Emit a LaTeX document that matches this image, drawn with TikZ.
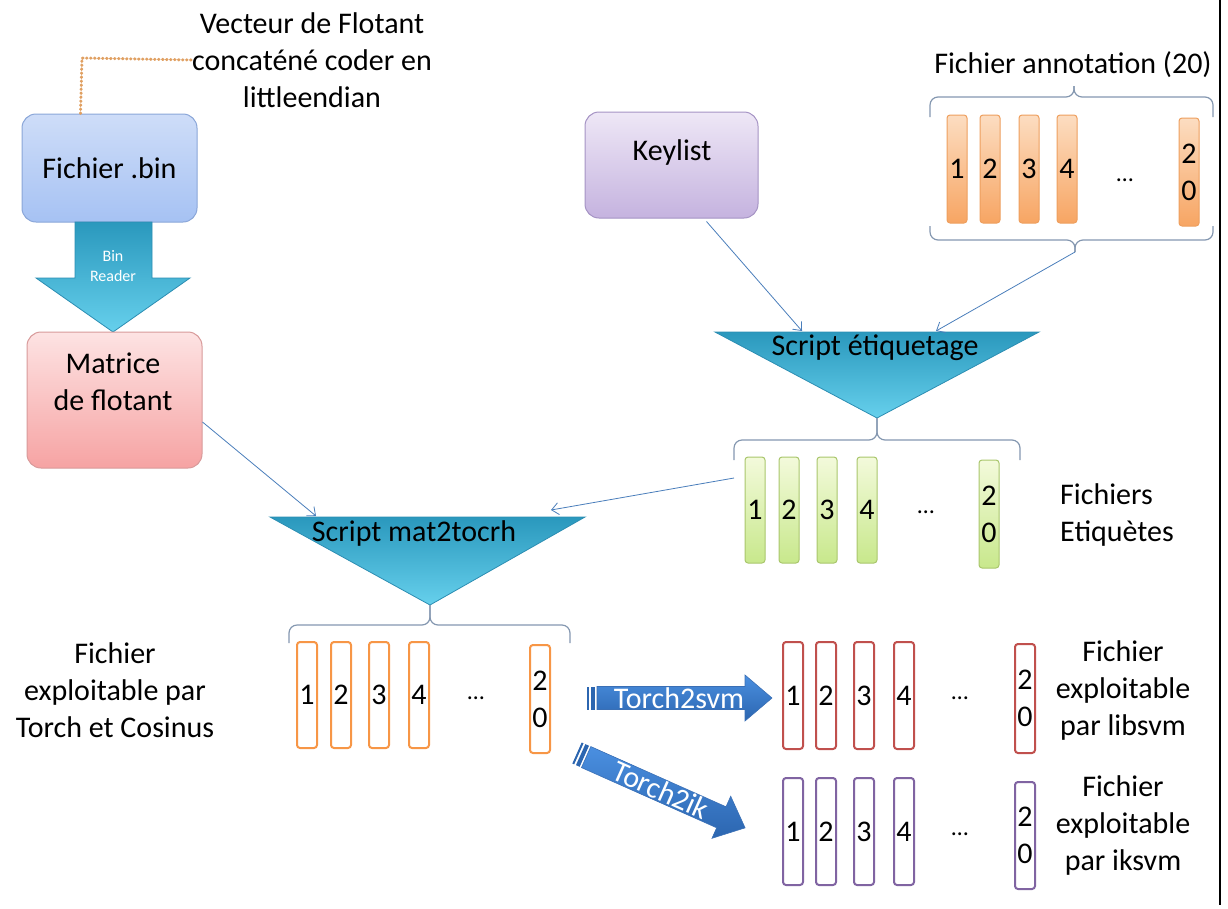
\documentclass[tikz,border=0pt]{standalone}
\usepackage{fontspec}
\setmainfont{Carlito}
\usetikzlibrary{arrows.meta}

% colours of the slide
\definecolor{binTop}{HTML}{CEDDF8}
\definecolor{binBot}{HTML}{A6C2F3}
\definecolor{binLine}{HTML}{8AA6D8}
\definecolor{matTop}{HTML}{FDE3E3}
\definecolor{matBot}{HTML}{F6A3A3}
\definecolor{matLine}{HTML}{D89A9A}
\definecolor{keyTop}{HTML}{EEE7F6}
\definecolor{keyBot}{HTML}{C5B3DF}
\definecolor{keyLine}{HTML}{A593C4}
\definecolor{triTop}{HTML}{2A98BD}
\definecolor{triBot}{HTML}{66D0EC}
\definecolor{triLine}{HTML}{2B8DB2}
\definecolor{annTop}{HTML}{FCDDC1}
\definecolor{annBot}{HTML}{F7A563}
\definecolor{annLine}{HTML}{EE9F5E}
\definecolor{etiTop}{HTML}{F3FADB}
\definecolor{etiBot}{HTML}{C8E88C}
\definecolor{etiLine}{HTML}{A9C66C}
\definecolor{torchLine}{HTML}{F79646}
\definecolor{svmLine}{HTML}{C0504D}
\definecolor{ikLine}{HTML}{8064A2}
\definecolor{linkBlue}{HTML}{4A7EBB}
\definecolor{braceGray}{HTML}{8497B0}
\definecolor{dotOrange}{HTML}{E0A062}
\definecolor{arrTop}{HTML}{4A8FE0}
\definecolor{arrBot}{HTML}{2C66B0}
\definecolor{arrLine}{HTML}{3A6FB5}

\tikzset{
  big/.style={font=\fontsize{30}{37}\selectfont, align=center, inner sep=0pt},
  dots/.style={font=\fontsize{24}{28}\selectfont, inner sep=0pt},
  filebox/.style={draw=#1Line, line width=1pt, rounded corners=14pt,
    top color=#1Top, bottom color=#1Bot},
  bar/.style={draw=#1Line, line width=1pt, rounded corners=3pt,
    top color=#1Top, bottom color=#1Bot, minimum width=20pt, big},
  outbar/.style={draw=#1Line, line width=2pt, rounded corners=3pt,
    fill=white, minimum width=20pt, big},
  link/.style={linkBlue, line width=0.8pt, -{Straight Barb[length=7pt,width=12pt]}},
  brace/.style={braceGray, line width=1.2pt, rounded corners=8pt},
  tri/.style={draw=triLine, line width=0.8pt, top color=triTop, bottom color=triBot},
  blockarrow/.style={draw=arrLine, line width=0.6pt, top color=arrTop, bottom color=arrBot},
}

\begin{document}
\begin{tikzpicture}[x=1pt, y=-1pt]
    \useasboundingbox (0,0) rectangle (1228,908);

    % left column: binary file, reader, matrix
    \node[big] (vecTxt) at (312,60) {Vecteur de Flotant\\concaténé coder en\\littleendian};
    \node[filebox=bin, big, minimum width=175pt, minimum height=108pt] (bin) at (109.5,168) {Fichier .bin};
    \draw[dotOrange, line width=3pt, line cap=round, dash pattern=on 0.6pt off 3.4pt]
        ([xshift=-29pt]bin.north) -- (82,58) -- (vecTxt.west);

    \shade[tri] (75,222) -- (152,222) -- (152,278) -- (190,278) -- (113,332) -- (36,278) -- (75,278) -- cycle;
    \node[font=\fontsize{16}{20}\selectfont, text=white, align=center, inner sep=0pt] (binReader) at (113,266) {Bin\\Reader};

    \node[filebox=mat, minimum width=175pt, minimum height=136pt] (mat) at (114.5,400) {};
    \node[big] (matTxt) at (113,382) {Matrice\\de flotant};

    % keylist and annotation files
    \node[filebox=key, minimum width=173pt, minimum height=106pt] (key) at (671.5,165) {};
    \node[big] (keyTxt) at (672,152) {Keylist};

    \node[big] (annTitle) at (1073,65) {Fichier annotation (20)};
    \draw[brace] (930,117) -- (930,97) -- (1074,97) -- (1074,86);
    \draw[brace] (1213,117) -- (1213,97) -- (1074,97) -- (1074,86);
    \foreach \n/\x in {1/957,2/990,3/1029,4/1067}
        \node[bar=ann, minimum height=108pt] (ann\n) at (\x,169) {\n};
    \node[bar=ann, minimum height=108pt] (ann20) at (1189,172) {2\\0};
    \node[dots] (annDots) at (1125,180) {…};
    \draw[brace] (930,226) -- (930,240) -- (1075,240) -- (1075,252);
    \draw[brace] (1213,226) -- (1213,240) -- (1075,240) -- (1075,252);
    \coordinate (annTip) at (1075,252);

    % labelling script
    \coordinate (etiqIn1) at (802,331);
    \coordinate (etiqIn2) at (936,331);
    \shade[tri] (715,332) -- (1039,332) -- (877,418) -- cycle;
    \node[big] (etiqTxt) at (875,348) {Script étiquetage};
    \draw[link] ([xshift=35pt,yshift=-3pt]key.south) -- (etiqIn1);
    \draw[link] (annTip) -- (etiqIn2);

    % labelled files
    \draw[brace] (734,460) -- (734,440) -- (877,440) -- (877,418);
    \draw[brace] (1020,460) -- (1020,440) -- (877,440) -- (877,418);
    \foreach \n/\x in {1/755,2/789,3/827,4/867}
        \node[bar=eti, minimum height=106pt] (eti\n) at (\x,510) {\n};
    \node[bar=eti, minimum height=108pt] (eti20) at (989,514) {2\\0};
    \node[dots] (etiDots) at (926,512) {…};
    \node[big, align=left, anchor=west] (etiTxt) at (1060,515) {Fichiers\\Etiquètes};

    % mat2tocrh script
    \coordinate (matIn1) at (316,516);
    \coordinate (matIn2) at (551,510);
    \coordinate (etiOut) at (734,478);
    \shade[tri] (270,517) -- (585,517) -- (430,605) -- cycle;
    \node[big] (torchScript) at (414,533) {Script mat2tocrh};
    \draw[link] ([yshift=-22pt]mat.east) -- (matIn1);
    \draw[link] (etiOut) -- (matIn2);

    % torch files
    \draw[brace] (289,643) -- (289,625) -- (430,625) -- (430,605);
    \draw[brace] (570,643) -- (570,625) -- (430,625) -- (430,605);
    \foreach \n/\x in {1/307,2/341,3/379,4/419}
        \node[outbar=torch, minimum height=106pt] (torch\n) at (\x,695) {\n};
    \node[outbar=torch, minimum height=108pt] (torch20) at (540,699) {2\\0};
    \node[dots] (torchDots) at (476,698) {…};
    \node[big] (torchTxt) at (115,690) {Fichier\\exploitable par\\Torch et Cosinus};

    % conversion arrows
    \begin{scope}[shift={(587,698)}]
        \fill[arrBot] (0,-11.5) rectangle (2,11.5);
        \fill[arrBot] (4,-11.5) rectangle (8,11.5);
        \shade[blockarrow] (10,-11.5) -- (158,-11.5) -- (158,-23) -- (185,0) -- (158,23) -- (158,11.5) -- (10,11.5) -- cycle;
    \end{scope}
    \node[big, text=white] (svmArrow) at (679,698) {Torch2svm};

    \begin{scope}[shift={(577,753)}, rotate=-24]
        \fill[arrBot] (0,-11.5) rectangle (2,11.5);
        \fill[arrBot] (4,-11.5) rectangle (8,11.5);
        \shade[blockarrow] (10,-11.5) -- (158,-11.5) -- (158,-23) -- (184,0) -- (158,23) -- (158,11.5) -- (10,11.5) -- cycle;
    \end{scope}
    \node[big, text=white, rotate=-24] (ikArrow) at (661,790) {Torch2ik};

    % libsvm files
    \foreach \n/\x in {1/793,2/826,3/864,4/904}
        \node[outbar=svm, minimum height=107pt] (svm\n) at (\x,695.5) {\n};
    \node[outbar=svm, minimum height=109pt] (svm20) at (1025,698.5) {2\\0};
    \node[dots] (svmDots) at (960,698) {…};
    \node[big] (svmTxt) at (1123,690) {Fichier\\exploitable\\par libsvm};

    % iksvm files
    \foreach \n/\x in {1/793,2/826,3/864,4/904}
        \node[outbar=ik, minimum height=107pt] (ik\n) at (\x,831.5) {\n};
    \node[outbar=ik, minimum height=107pt] (ik20) at (1025,835.5) {2\\0};
    \node[dots] (ikDots) at (960,834) {…};
    \node[big] (ikTxt) at (1123,825) {Fichier\\exploitable\\par iksvm};

    % slide edge
    \draw[line width=1.5pt] (1220,0) -- (1220,905);
\end{tikzpicture}
\end{document}
